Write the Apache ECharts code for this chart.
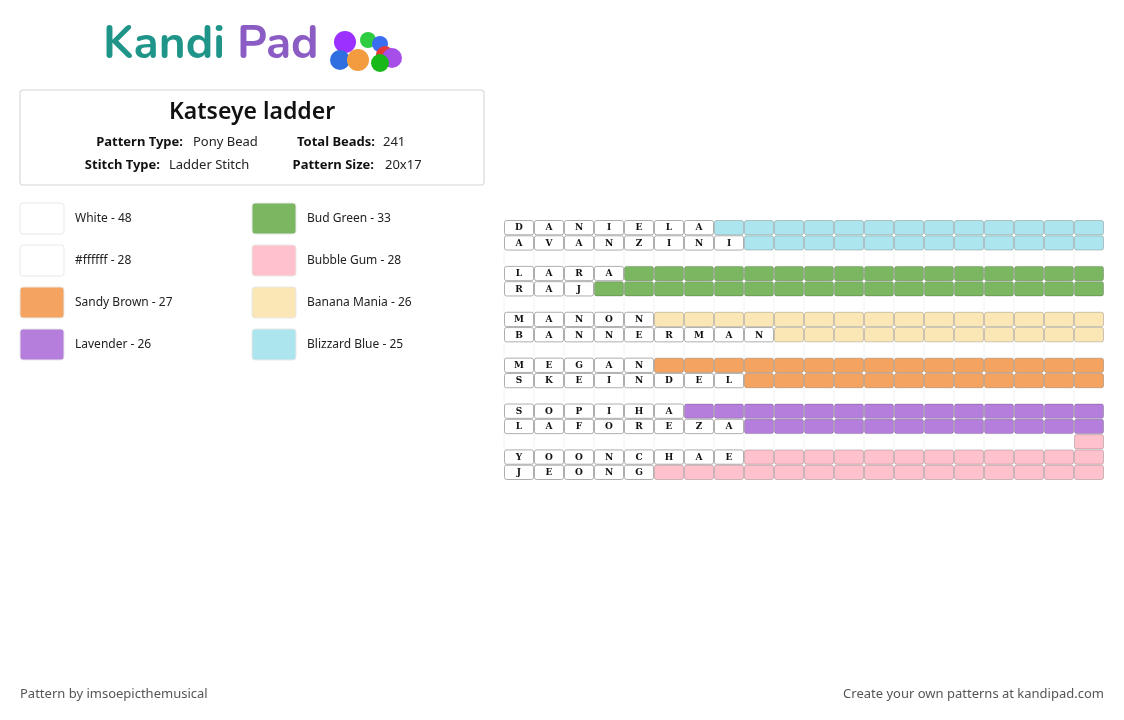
<!DOCTYPE html>
<html><head><meta charset="utf-8">
<script src="https://cdn.jsdelivr.net/npm/echarts@6/dist/echarts.min.js"></script>
<style>html,body{margin:0;padding:0;background:#fff}#c{width:1124px;height:720px}</style>
</head><body><div id="c"></div>
<script>
const title = 'Katseye ladder';
const cols = 20;
const rowNames = ['DANIELA','AVANZINI','','LARA','RAJ','','MANON','BANNERMAN','','MEGAN','SKEINDEL','','SOPIHA','LAFOREZA','','YOONCHAE','JEONG'];
const rowFill = ['Blizzard Blue','Blizzard Blue',null,'Bud Green','Bud Green',null,'Banana Mania','Banana Mania',null,'Sandy Brown','Sandy Brown',null,'Lavender','Lavender',null,'Bubble Gum','Bubble Gum'];
const extraBeads = [[14,19,'Bubble Gum']];
const legendNames = ['White','#ffffff','Sandy Brown','Lavender','Bud Green','Bubble Gum','Banana Mania','Blizzard Blue'];
const legendCounts = [48,28,27,26,33,28,26,25];
const palette = {'White':'#ffffff','#ffffff':'#ffffff','Sandy Brown':'#f4a460','Lavender':'#b57edc','Bud Green':'#7bb661','Bubble Gum':'#ffc1cc','Banana Mania':'#fae7b5','Blizzard Blue':'#ace5ee'};

const cells = [];
rowNames.forEach((name, r) => {
  for (let c = 0; c < cols; c++) {
    if (c < name.length) cells.push([c, r, name[c], '#ffffff', 1]);
    else if (rowFill[r]) cells.push([c, r, '', palette[rowFill[r]], 1]);
    else cells.push([c, r, '', '#ffffff', 0]);
  }
});
extraBeads.forEach(([r, c, n]) => { const cell = cells.find(x => x[0] === c && x[1] === r); cell[3] = palette[n]; cell[4] = 1; });

const chart = echarts.init(document.getElementById('c'));
const graphics = [];
graphics.push({type:'text',left:103,top:24,style:{text:'Kandi',font:'bold 46px Nunito, "Open Sans", sans-serif',fill:'#1f9488'}});
graphics.push({type:'text',left:237,top:24,style:{text:'Pad',font:'bold 46px Nunito, "Open Sans", sans-serif',fill:'#8b5cc4'}});
[[345,42,11,'#9b30ff'],[368,40,8,'#2ecc40'],[380,44,8,'#3a6df0'],[385,55,9,'#e53935'],[392,58,10,'#a64ee8'],[340,60,10,'#2f6fe0'],[358,60,11,'#f39c3f'],[380,63,9,'#18b818']].forEach(([x,y,r,f])=>graphics.push({type:'circle',shape:{cx:x,cy:y,r:r},style:{fill:f}}));
graphics.push({type:'rect',shape:{x:20,y:90,width:464,height:95,r:3},style:{fill:'#fff',stroke:'#e2e2e2',lineWidth:1.5}});
graphics.push({type:'text',x:252,y:112,style:{text:title,font:'600 23px "Noto Sans", sans-serif',fill:'#111',align:'center',verticalAlign:'middle'}});
const info = [['Pattern Type:','Pony Bead',183,193,142],['Total Beads:','241',375,383,142],['Stitch Type:','Ladder Stitch',160,169,165],['Pattern Size:','20x17',374,385,165]];
info.forEach(([k,v,kx,vx,y])=>{
  graphics.push({type:'text',x:kx,y:y,style:{text:k,font:'bold 13px "Noto Sans", sans-serif',fill:'#111',align:'right',verticalAlign:'middle'}});
  graphics.push({type:'text',x:vx,y:y,style:{text:v,font:'13px "Noto Sans", sans-serif',fill:'#222',verticalAlign:'middle'}});
});
legendNames.forEach((n,i)=>{
  const x = i<4 ? 20 : 252, y = 203 + (i%4)*42;
  graphics.push({type:'rect',shape:{x:x,y:y,width:44,height:31,r:3},style:{fill:palette[n],stroke:'#e8e8e8',lineWidth:1}});
  graphics.push({type:'text',x:x+55,y:y+15.5,style:{text:n+' - '+legendCounts[i],font:'12px "Noto Sans", sans-serif',fill:'#222',verticalAlign:'middle'}});
});
graphics.push({type:'text',left:20,top:688,style:{text:'Pattern by imsoepicthemusical',font:'13px "Noto Sans", sans-serif',fill:'#555'}});
graphics.push({type:'text',right:20,top:688,style:{text:'Create your own patterns at kandipad.com',font:'13px "Noto Sans", sans-serif',fill:'#555'}});

chart.setOption({
  animation:false,
  grid:{left:504,top:220,width:600,height:260},
  xAxis:{type:'category',data:Array.from({length:cols},(_,i)=>i),show:false},
  yAxis:{type:'category',data:rowNames.map((_,i)=>i),inverse:true,show:false},
  graphic:graphics,
  series:[{
    type:'custom',
    data:cells,
    renderItem:(params, api)=>{
      const p = api.coord([api.value(0), api.value(1)]);
      const s = api.size([1,1]);
      const filled = api.value(4);
      const x = p[0]-s[0]/2, y = p[1]-s[1]/2;
      if (!filled) {
        return {type:'line',shape:{x1:x,y1:y,x2:x,y2:y+s[1]},style:{stroke:'#f2f2f2',lineWidth:1}};
      }
      const fill = cells[params.dataIndex][3];
      const letter = cells[params.dataIndex][2];
      const children = [{type:'rect',shape:{x:x+0.5,y:y+0.5,width:s[0]-1,height:s[1]-1,r:2},style:{fill:fill,stroke:fill==='#ffffff'?'#999':'rgba(0,0,0,0.25)',lineWidth:0.8}}];
      if (letter) children.push({type:'text',x:p[0],y:p[1]+0.5,style:{text:letter,font:'bold 9px "DejaVu Serif", serif',fill:'#111',align:'center',verticalAlign:'middle'}});
      return {type:'group',children};
    }
  }]
});
</script></body></html>
